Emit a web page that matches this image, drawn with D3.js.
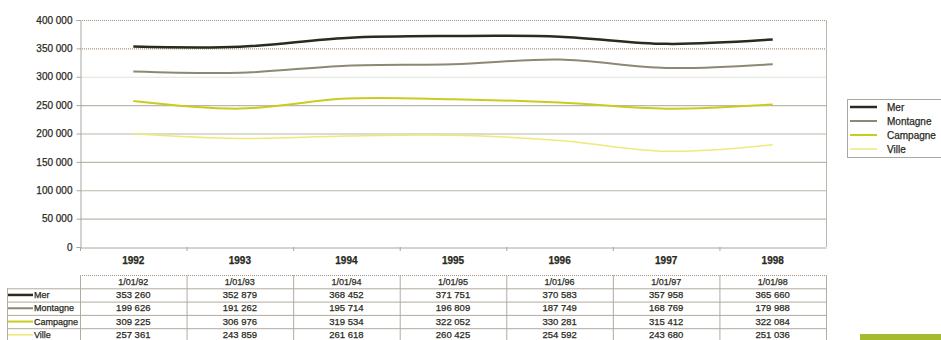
<!DOCTYPE html>
<html><head><meta charset="utf-8">
<script src="https://cdn.jsdelivr.net/npm/d3@7"></script>
<style>body{margin:0;background:#fff}svg{display:block;font-family:"Liberation Sans",Arial,sans-serif}svg text{stroke:#2a2a22;stroke-width:0.25px}</style>
</head><body><svg id="c" width="941" height="340"></svg>
<script>
const years = ["1992","1993","1994","1995","1996","1997","1998"];
const dates = ["1/01/92","1/01/93","1/01/94","1/01/95","1/01/96","1/01/97","1/01/98"];
const yTicks = [0,50000,100000,150000,200000,250000,300000,350000,400000];
// plotted series (as drawn by the lines)
const mer      = [353260,352879,368452,371751,370583,357958,365660];
const montagne = [309225,306976,319534,322052,330281,315412,322084];
const campagne = [257361,243859,261618,260425,254592,243680,251036];
const ville    = [199626,191262,195714,196809,187749,168769,179988];
const seriesNames = ["Mer","Montagne","Campagne","Ville"];
const seriesColors = ["#2b2a1c","#8c8872","#c9cc1e","#efe97a"];
const seriesWidths = [2.5,2,2,1.5];
// data table rows, as printed in the source table
const tableLabels = ["Mer","Montagne","Campagne","Ville"];
const tableRows = [mer, ville, montagne, campagne];

const svg = d3.select("#c");
const L=80,R=826,T=20,B=247;
const x = d3.scaleBand().domain(years).range([L,R]);
const y = d3.scaleLinear().domain([0,400000]).range([B,T]);
const fmt = v => d3.format(",")(v).replace(/,/g," ");

// gridlines
svg.append("g").selectAll("line").data(yTicks.filter(d=>d>0)).join("line")
  .attr("x1",L).attr("x2",R).attr("y1",d=>y(d)+0.5).attr("y2",d=>y(d)+0.5)
  .attr("stroke",d=>d>=350000?"#a89080":(d===300000?"#e2e2dc":"#b8b8ac"))
  .attr("stroke-dasharray",d=>d>=350000?"1,1":null)
  .attr("stroke-width",d=>d===300000?1:1.2);
// frame
svg.append("line").attr("x1",R+0.5).attr("x2",R+0.5).attr("y1",T).attr("y2",B).attr("stroke","#b8b8ac");
// axes
const ya = svg.append("g").attr("transform",`translate(${L+0.5},0)`)
  .call(d3.axisLeft(y).tickValues(yTicks).tickFormat(fmt).tickSize(4).tickPadding(4));
ya.select(".domain").attr("stroke","#a8a89c");
ya.selectAll(".tick line").attr("stroke","#a8a89c");
ya.selectAll("text").attr("font-size",10).attr("fill","#2a2a22").attr("font-family","Liberation Sans, Arial");
const xa = svg.append("g").attr("transform",`translate(0,${B+0.5})`)
  .call(d3.axisBottom(x).tickSize(0).tickPadding(9));
xa.select(".domain").attr("stroke","#a8a89c");
xa.selectAll("text").attr("font-size",10).attr("fill","#2a2a22").attr("font-weight","bold").attr("font-family","Liberation Sans, Arial");
svg.append("g").selectAll("line").data(years).join("line")
  .attr("x1",d=>x(d)+0.5).attr("x2",d=>x(d)+0.5).attr("y1",B).attr("y2",B+4).attr("stroke","#a8a89c");

// lines
const plotted = [mer,montagne,campagne,ville];
const line = d3.line().x((d,i)=>x(years[i])+x.bandwidth()/2).y(d=>y(d)).curve(d3.curveCardinal.tension(0));
svg.append("g").selectAll("path").data(plotted).join("path")
  .attr("d",d=>line(d)).attr("fill","none")
  .attr("stroke",(d,i)=>seriesColors[i]).attr("stroke-width",(d,i)=>seriesWidths[i]);

// legend
const lg = svg.append("g");
lg.append("rect").attr("x",847.5).attr("y",99.5).attr("width",100).attr("height",58).attr("fill","#fff").attr("stroke","#a8a89c");
seriesNames.forEach((n,i)=>{
  const yy = 107 + i*14;
  lg.append("line").attr("x1",850).attr("x2",877).attr("y1",yy).attr("y2",yy)
    .attr("stroke",seriesColors[i]).attr("stroke-width",seriesWidths[i]);
  lg.append("text").attr("x",887).attr("y",yy+3.5).attr("font-size",10).attr("fill","#2a2a22").text(n);
});

// data table
const tb = svg.append("g");
const rowTop = 275, rowH = 13.3;
const gridC = "#b0ac9e";
tb.append("line").attr("x1",L).attr("x2",R).attr("y1",rowTop+0.5).attr("y2",rowTop+0.5).attr("stroke","#a89080").attr("stroke-dasharray","1,1");
for(let r=1;r<=4;r++){
  tb.append("line").attr("x1",7).attr("x2",R).attr("y1",rowTop+r*rowH+0.5).attr("y2",rowTop+r*rowH+0.5).attr("stroke",gridC);
}
tb.append("line").attr("x1",7.5).attr("x2",7.5).attr("y1",rowTop+rowH).attr("y2",340).attr("stroke",gridC);
const cols = years.map(d=>x(d)).concat([R]);
tb.selectAll(".vl").data(cols).join("line")
  .attr("x1",d=>d+0.5).attr("x2",d=>d+0.5).attr("y1",rowTop).attr("y2",340).attr("stroke",gridC);
tb.selectAll(".dt").data(dates).join("text")
  .attr("x",(d,i)=>x(years[i])+x.bandwidth()/2).attr("y",rowTop+rowH-3.5)
  .attr("text-anchor","middle").attr("font-size",9).attr("fill","#2a2a22").text(d=>d);
tableRows.forEach((row,r)=>{
  const yy = rowTop+(r+1)*rowH;
  const color = seriesColors[r];
  tb.append("line").attr("x1",8).attr("x2",33).attr("y1",yy+rowH/2).attr("y2",yy+rowH/2)
    .attr("stroke",color).attr("stroke-width",seriesWidths[r]);
  tb.append("text").attr("x",34).attr("y",yy+rowH-3.5).attr("font-size",9).attr("fill","#2a2a22").text(tableLabels[r]);
  tb.selectAll(null).data(row).join("text")
    .attr("x",(d,i)=>x(years[i])+x.bandwidth()/2).attr("y",yy+rowH-3.5)
    .attr("text-anchor","middle").attr("font-size",9.5).attr("fill","#2a2a22").text(d=>fmt(d));
});
// decorative green bar
svg.append("rect").attr("x",860).attr("y",334).attr("width",81).attr("height",6).attr("fill","#a6bb2c");
</script></body></html>
